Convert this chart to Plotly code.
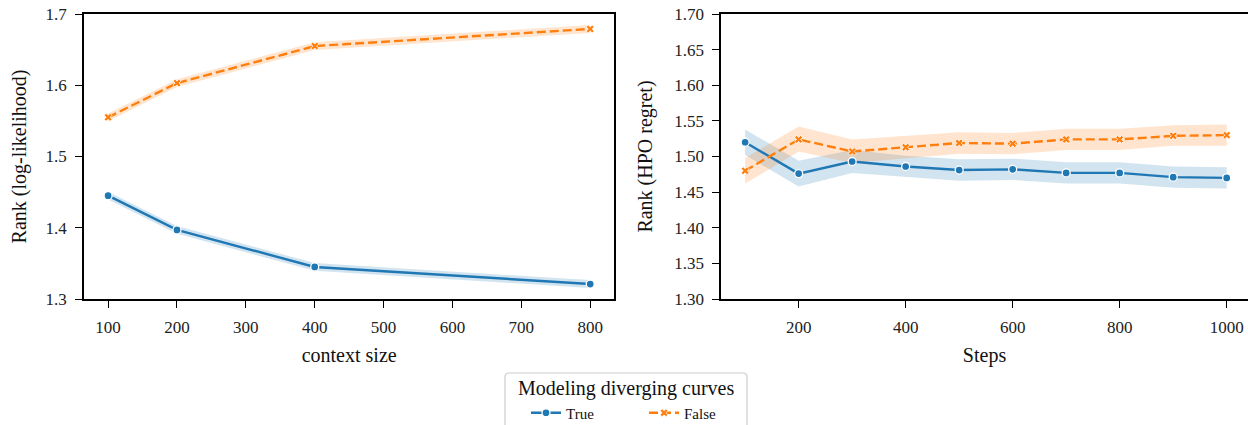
import plotly.graph_objects as go

# Left panel: context size
ctx = [100, 200, 400, 800]
ctx_true = [1.445, 1.397, 1.345, 1.321]
ctx_true_lo = [1.4395, 1.3915, 1.3395, 1.3155]
ctx_true_hi = [1.4505, 1.4025, 1.3505, 1.3265]
ctx_false = [1.555, 1.603, 1.655, 1.679]
ctx_false_lo = [1.5495, 1.5975, 1.6495, 1.6735]
ctx_false_hi = [1.5605, 1.6085, 1.6605, 1.6845]

# Right panel: steps
steps = [100, 200, 300, 400, 500, 600, 700, 800, 900, 1000]
st_true = [1.520, 1.476, 1.493, 1.486, 1.481, 1.482, 1.477, 1.477, 1.471, 1.470]
st_true_lo = [1.502, 1.458, 1.477, 1.471, 1.466, 1.467, 1.462, 1.462, 1.456, 1.455]
st_true_hi = [1.538, 1.494, 1.509, 1.501, 1.496, 1.497, 1.492, 1.492, 1.486, 1.485]
st_false = [1.480, 1.524, 1.507, 1.513, 1.519, 1.518, 1.524, 1.524, 1.529, 1.530]
st_false_lo = [1.462, 1.507, 1.491, 1.498, 1.504, 1.503, 1.509, 1.509, 1.515, 1.515]
st_false_hi = [1.498, 1.542, 1.524, 1.529, 1.534, 1.533, 1.539, 1.539, 1.544, 1.545]

left_ticks = [100, 200, 300, 400, 500, 600, 700, 800]
right_ticks = [200, 400, 600, 800, 1000]
left_yticks = [1.3, 1.4, 1.5, 1.6, 1.7]
right_yticks = [1.30, 1.35, 1.40, 1.45, 1.50, 1.55, 1.60, 1.65, 1.70]
legend_title = "Modeling diverging curves"

BLUE = "#1f77b4"
ORANGE = "#ff7f0e"
BLUE_BAND = "rgba(31,119,180,0.2)"
ORANGE_BAND = "rgba(255,127,14,0.2)"
FONT = "Liberation Serif"
TICK = 17
LABEL = 20

W, H = 1248, 425
ML, MR, MT, MB = 84, 0, 14, 126
PW = W - ML - MR
PH = H - MT - MB


def px_x(px):
    return (px - ML) / PW


def px_y(py):
    return (H - MB - py) / PH


fig = go.Figure()


def band(x, lo, hi, color, xa, ya):
    fig.add_trace(go.Scatter(x=x, y=hi, mode="lines", line=dict(width=0),
                             showlegend=False, hoverinfo="skip", xaxis=xa, yaxis=ya))
    fig.add_trace(go.Scatter(x=x, y=lo, mode="lines", line=dict(width=0),
                             fill="tonexty", fillcolor=color, showlegend=False,
                             hoverinfo="skip", xaxis=xa, yaxis=ya))


def series(x, y, name, color, dash, symbol, size, mline, xa, ya, legend):
    fig.add_trace(go.Scatter(
        x=x, y=y, mode="lines+markers", name=name,
        line=dict(color=color, width=2.4, dash=dash),
        marker=dict(symbol=symbol, size=size, color=color, line=mline),
        showlegend=legend, xaxis=xa, yaxis=ya))


band(ctx, ctx_true_lo, ctx_true_hi, BLUE_BAND, "x", "y")
band(ctx, ctx_false_lo, ctx_false_hi, ORANGE_BAND, "x", "y")
band(steps, st_true_lo, st_true_hi, BLUE_BAND, "x2", "y2")
band(steps, st_false_lo, st_false_hi, ORANGE_BAND, "x2", "y2")

circ_line = dict(color="white", width=1.3)
x_line = dict(color="white", width=0.8)
DASH = "9px,4px"
series(ctx, ctx_true, "True", BLUE, "solid", "circle", 8, circ_line, "x", "y", True)
series(ctx, ctx_false, "False", ORANGE, DASH, "x", 7, x_line, "x", "y", True)
series(steps, st_true, "True", BLUE, "solid", "circle", 8, circ_line, "x2", "y2", False)
series(steps, st_false, "False", ORANGE, DASH, "x", 7, x_line, "x2", "y2", False)

axis_common = dict(showline=True, linecolor="black", linewidth=1.5,
                   ticks="outside", ticklen=7, tickwidth=1.2, tickcolor="black",
                   showgrid=False, zeroline=False, ticklabelstandoff=5,
                   tickfont=dict(family=FONT, size=TICK, color="#222"))

# legend frame (rounded) and title
x0, x1, y0, y1, r = px_x(505), px_x(747), px_y(373), px_y(440), 4
rx, ry = r / PW, r / PH
path = (f"M {x0+rx},{y0} L {x1-rx},{y0} Q {x1},{y0} {x1},{y0-ry} "
        f"L {x1},{y1} L {x0},{y1} L {x0},{y0-ry} Q {x0},{y0} {x0+rx},{y0} Z")
fig.add_shape(type="path", path=path, xref="paper", yref="paper",
              line=dict(color="#cccccc", width=1.2), fillcolor="white", layer="below")
fig.add_annotation(text=legend_title, x=px_x(626), y=px_y(388), xref="paper", yref="paper",
                   showarrow=False, xanchor="center", yanchor="middle",
                   font=dict(family=FONT, size=20, color="#111"))

fig.update_layout(
    width=W, height=H,
    margin=dict(l=ML, r=MR, t=MT, b=MB),
    plot_bgcolor="white", paper_bgcolor="white",
    font=dict(family=FONT, color="#111"),
    xaxis=dict(domain=[0, 0.4556], range=[65, 835], tickvals=left_ticks,
               mirror=True, anchor="y",
               title=dict(text="context size", font=dict(family=FONT, size=LABEL), standoff=12),
               **axis_common),
    yaxis=dict(domain=[0, 1], range=[1.3, 1.7], tickvals=left_yticks,
               ticktext=[f"{v:.1f}" for v in left_yticks], mirror=True, anchor="x",
               title=dict(text="Rank (log-likelihood)", font=dict(family=FONT, size=LABEL), standoff=14),
               **axis_common),
    xaxis2=dict(domain=[0.5473, 1], range=[55, 1039.8], tickvals=right_ticks,
                mirror=True, anchor="y2",
                title=dict(text="Steps", font=dict(family=FONT, size=LABEL), standoff=12),
                **axis_common),
    yaxis2=dict(domain=[0, 1], range=[1.3, 1.7], tickvals=right_yticks,
                ticktext=[f"{v:.2f}" for v in right_yticks], mirror=False, anchor="x2",
                title=dict(text="Rank (HPO regret)", font=dict(family=FONT, size=LABEL), standoff=16),
                **axis_common),
    legend=dict(orientation="h", xref="container", yref="container",
                x=526 / W, xanchor="left", y=1 - 413 / H, yanchor="middle",
                traceorder="normal", bgcolor="rgba(0,0,0,0)", borderwidth=0,
                font=dict(family=FONT, size=15),
                entrywidth=73, entrywidthmode="pixels", tracegroupgap=0),
)

fig.write_html("out.html")
